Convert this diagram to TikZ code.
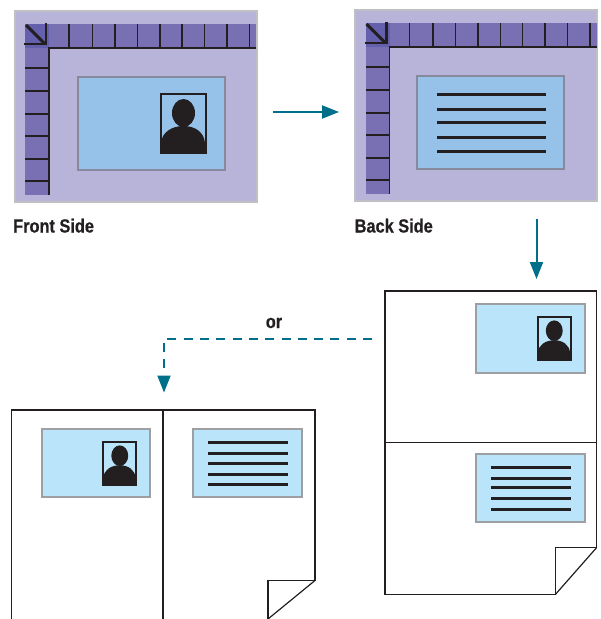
\documentclass[tikz,border=0pt]{standalone}
\usepackage{fontspec}
\usetikzlibrary{arrows.meta}
\setmainfont[FakeStretch=0.86,FakeBold=0.6]{Liberation Sans}
\definecolor{sheetgray}{HTML}{BFBFC4}
\definecolor{sheetpurple}{HTML}{B8B3D8}
\definecolor{rulerpurple}{HTML}{7870B2}
\definecolor{cornerpurple}{HTML}{6560AE}
\definecolor{cardblue}{HTML}{96C1E8}
\definecolor{cardedge}{HTML}{868A9C}
\definecolor{lightblue}{HTML}{B9E4FA}
\definecolor{lightedge}{HTML}{9E9FA2}
\definecolor{inkblack}{HTML}{231F20}
\definecolor{arrowteal}{HTML}{00708A}
\tikzset{
  sheet/.style={draw=sheetgray, fill=sheetpurple, line width=2pt},
  bigcard/.style={draw=cardedge, fill=cardblue, line width=2.6pt},
  smallcard/.style={draw=lightedge, fill=lightblue, line width=2pt},
  page/.style={draw=inkblack, line width=1.2pt},
  tick/.style={draw=inkblack, line width=1.6pt},
  textline/.style={draw=inkblack, line width=2.4pt},
  flow/.style={draw=arrowteal, line width=2pt, -{Triangle[length=17pt,width=13pt]}},
  caption/.style={font=\bfseries\fontsize{19}{21}\selectfont, text=inkblack, inner sep=0pt},
}
% #1,#2 = top left corner, #3 = scale
\newcommand{\photo}[3]{
  \begin{scope}[shift={(#1,#2)}, scale=#3]
    \draw[draw=inkblack, line width=#3*2.6pt] (1,1) rectangle (46,60);
    \fill[inkblack] (23.5,20) ellipse (11.5 and 14);
    \fill[inkblack] (0,60) -- (1,50) .. controls (2,39) and (12,33) .. (23.5,33) .. controls (35,33) and (44,39) .. (45,50) -- (47,60) -- cycle;
  \end{scope}
}
% #1,#2 = left top of the ruler corner
\newcommand{\ruler}[2]{
  \begin{scope}[shift={(#1,#2)}]
    \fill[rulerpurple] (0,0) rectangle (231,24);
    \fill[rulerpurple] (0,0) rectangle (24,171);
    \fill[cornerpurple] (0,0) rectangle (24,24);
    \foreach \x in {44,67.3,90,112.3,135,157,179.3,202,224.3}
      \draw[tick] (\x,0) -- (\x,24);
    \foreach \y in {44,66.7,89.7,111.7,134.7,157}
      \draw[tick] (0,\y) -- (24,\y);
    \draw[tick] (231,24) -- (24,24) -- (24,171);
    \draw[draw=inkblack, line width=3pt] (1,1) -- (20,20);
    \draw[draw=inkblack, line width=2.8pt] (-1,20) -- (21,20) -- (21,-1);
  \end{scope}
}
\begin{document}
\begin{tikzpicture}[x=1pt, y=-1pt]
\useasboundingbox (0,0) rectangle (601,619);

% front side
\draw[sheet] (14.5,11) rectangle (256.5,202);
\ruler{25}{24}
\draw[bigcard] (78,77) rectangle (225,170);
\photo{160}{93}{1}
\node[caption, anchor=base west] (frontlabel) at (13,232.5) {Front Side};

% back side
\draw[sheet] (354.5,10) rectangle (596.5,201);
\ruler{365.5}{23}
\draw[bigcard] (417,76) rectangle (564,169);
\foreach \y in {94.3,109.3,122.3,137.3,151.3}
  \draw[textline] (437,\y) -- (546,\y);
\node[caption, anchor=base west] (backlabel) at (354.5,232.5) {Back Side};

% side by side page
\draw[page] (11.5,619) -- (11.5,410) -- (315,410) -- (315,580.5) -- (268,580.5) -- (268,619);
\draw[page] (315,580.5) -- (268,619);
\draw[page] (163,410) -- (163,619);
\draw[smallcard] (42,429) rectangle (150,497);
\photo{102.5}{441}{0.735}
\draw[smallcard] (193,429) rectangle (301.5,497);
\foreach \y in {442.3,453.3,463.3,474.3,484.3}
  \draw[textline] (208,\y) -- (288,\y);

% stacked page
\draw[page] (385,291) -- (596.7,291) -- (596.7,547.5) -- (555.5,547.5) -- (555.5,594.3) -- (385,594.3) -- cycle;
\draw[page] (596.7,547.5) -- (555.5,594.3);
\draw[page] (385,442.7) -- (596.7,442.7);
\draw[smallcard] (476,304) rectangle (585,372.7);
\photo{537}{316}{0.735}
\draw[smallcard] (476,453.7) rectangle (585,522.3);
\foreach \y in {467.3,478.3,487.3,498.3,509.3}
  \draw[textline] (491,\y) -- (571,\y);

% arrows
\coordinate (frontout) at (273,112);
\coordinate (backin) at (339,112);
\coordinate (backout) at (536.5,219);
\coordinate (stackin) at (536.5,279);
\coordinate (orstart) at (372,339);
\coordinate (orbend) at (164,339);
\coordinate (sidein) at (164,392.5);
\draw[flow] (frontout) -- (backin);
\draw[flow] (backout) -- (stackin);
\draw[flow, dash pattern=on 9pt off 7.3pt] (orstart) -- (orbend) -- (sidein);
\node[caption, anchor=base] (orlabel) at (274,328) {or};
\end{tikzpicture}
\end{document}
